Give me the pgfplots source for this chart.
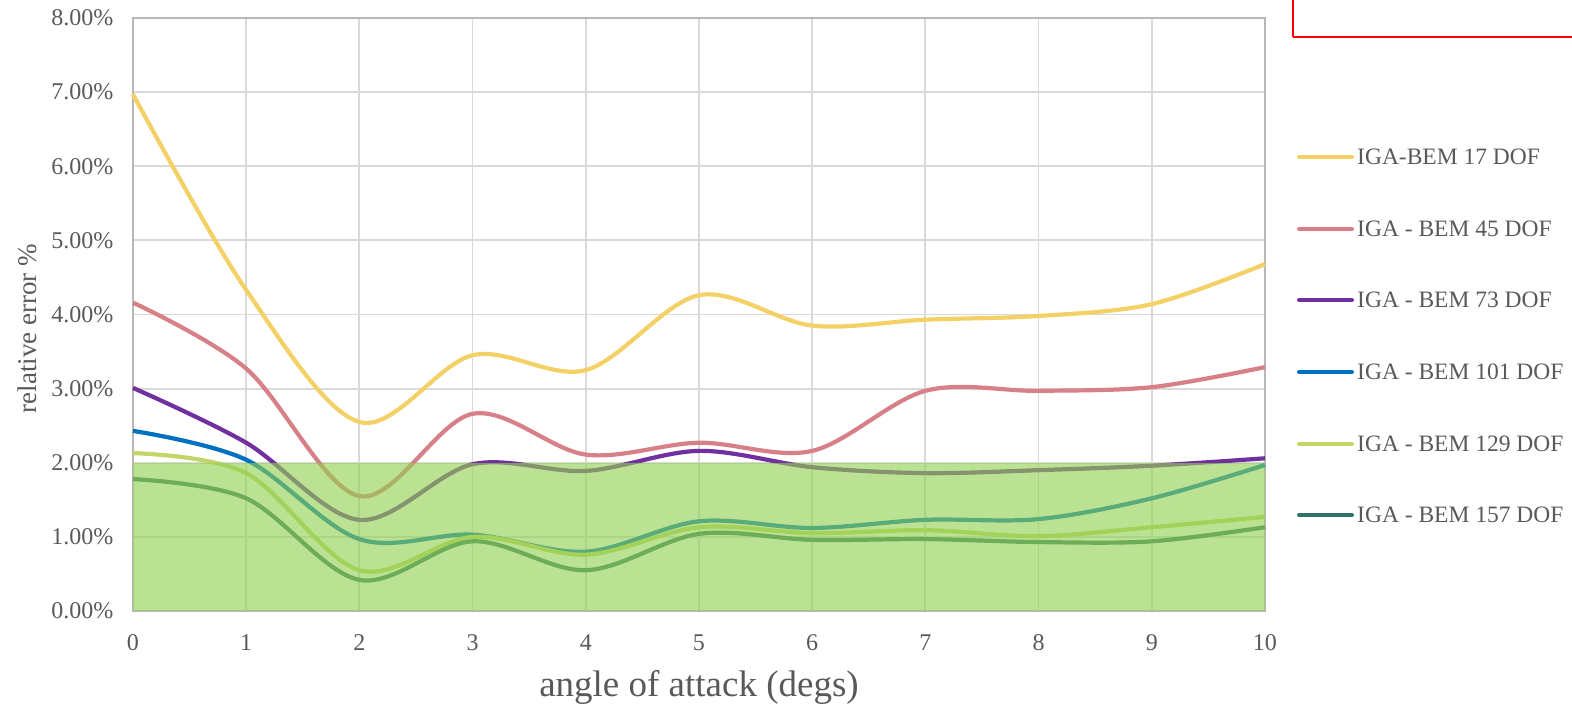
\documentclass[border=0pt]{standalone}
\usepackage{pgfplots}
\pgfplotsset{compat=1.18}
\usepackage{fontspec}
\setmainfont{Liberation Serif}
\definecolor{tickgray}{RGB}{89,89,89}
\definecolor{gridgray}{RGB}{217,217,217}
\definecolor{cA}{RGB}{243,209,102}
\definecolor{cB}{RGB}{216,128,136}
\definecolor{cC}{RGB}{112,48,160}
\definecolor{cD}{RGB}{0,112,192}
\definecolor{cE}{RGB}{195,213,105}
\definecolor{cF}{RGB}{49,115,104}
\definecolor{bandgreen}{RGB}{146,208,80}
\begin{document}
\begin{tikzpicture}
\useasboundingbox (-133pt,-95pt) rectangle (1439pt,611pt);
\begin{axis}[
  at={(0pt,0pt)}, anchor=south west,
  scale only axis, width=1132pt, height=593pt,
  xmin=0, xmax=10, ymin=0, ymax=8,
  xtick={0,...,10}, ytick={0,...,8},
  grid=major,
  major grid style={draw=gridgray, line width=1.8pt},
  axis line style={draw=gridgray!85!black, line width=1.8pt},
  major tick length=0pt,
  /pgf/number format/assume math mode=true,
  ticklabel style={font=\fontsize{24}{28}\selectfont, text=tickgray},
  yticklabel={\pgfmathprintnumber[fixed,fixed zerofill,precision=2]{\tick}\%},
  yticklabel style={xshift=-16pt},
  xticklabel style={yshift=-20pt},
  xlabel={angle of attack (degs)},
  xlabel style={at={(axis description cs:0.5,0)}, anchor=base, yshift=-86pt, font=\fontsize{37}{42}\selectfont, text=tickgray},
  ylabel={relative error \%},
  ylabel style={at={(axis description cs:0,0.5)}, anchor=base, yshift=96pt, xshift=-14pt, font=\fontsize{27}{31}\selectfont, text=tickgray},
  every axis plot/.append style={line width=4.2pt, smooth, tension=0.55},
  clip=false,
]
\addplot[cA] coordinates {(0,6.97)(1,4.33)(2,2.55)(3,3.45)(4,3.25)(5,4.26)(6,3.85)(7,3.93)(8,3.98)(9,4.14)(10,4.68)};
\addplot[cB] coordinates {(0,4.16)(1,3.27)(2,1.55)(3,2.66)(4,2.11)(5,2.27)(6,2.16)(7,2.97)(8,2.97)(9,3.02)(10,3.29)};
\addplot[cC] coordinates {(0,3.01)(1,2.27)(2,1.23)(3,1.98)(4,1.89)(5,2.16)(6,1.94)(7,1.86)(8,1.90)(9,1.96)(10,2.06)};
\addplot[cD] coordinates {(0,2.43)(1,2.04)(2,0.97)(3,1.03)(4,0.80)(5,1.21)(6,1.12)(7,1.23)(8,1.24)(9,1.52)(10,1.97)};
\addplot[cE] coordinates {(0,2.13)(1,1.86)(2,0.55)(3,1.00)(4,0.76)(5,1.13)(6,1.05)(7,1.09)(8,1.01)(9,1.13)(10,1.27)};
\addplot[cF] coordinates {(0,1.78)(1,1.52)(2,0.42)(3,0.94)(4,0.55)(5,1.04)(6,0.96)(7,0.97)(8,0.93)(9,0.94)(10,1.13)};
\addplot[draw=none, fill=bandgreen, fill opacity=0.62, sharp plot, line width=0pt] coordinates {(0,0)(0,2)(10,2)(10,0)} -- cycle;
\end{axis}
% red decorative box (top right)
\draw[red, line width=2pt] (1160pt,574pt) -- (1160pt,640pt);
\draw[red, line width=2pt] (1160pt,574pt) -- (1460pt,574pt);
% legend
\foreach \c/\t/\y in {cA/{IGA-BEM 17 DOF}/454, cB/{IGA - BEM 45 DOF}/382, cC/{IGA - BEM 73 DOF}/311, cD/{IGA - BEM 101 DOF}/239, cE/{IGA - BEM 129 DOF}/167, cF/{IGA - BEM 157 DOF}/96}{
  \draw[\c, line width=4pt, line cap=round] (1166pt,\y pt) -- (1219pt,\y pt);
  \node[anchor=west, inner sep=0pt, font=\fontsize{23.5}{27}\selectfont, text=tickgray] at (1224pt,\y pt) {\t};
}
\end{tikzpicture}
\end{document}
